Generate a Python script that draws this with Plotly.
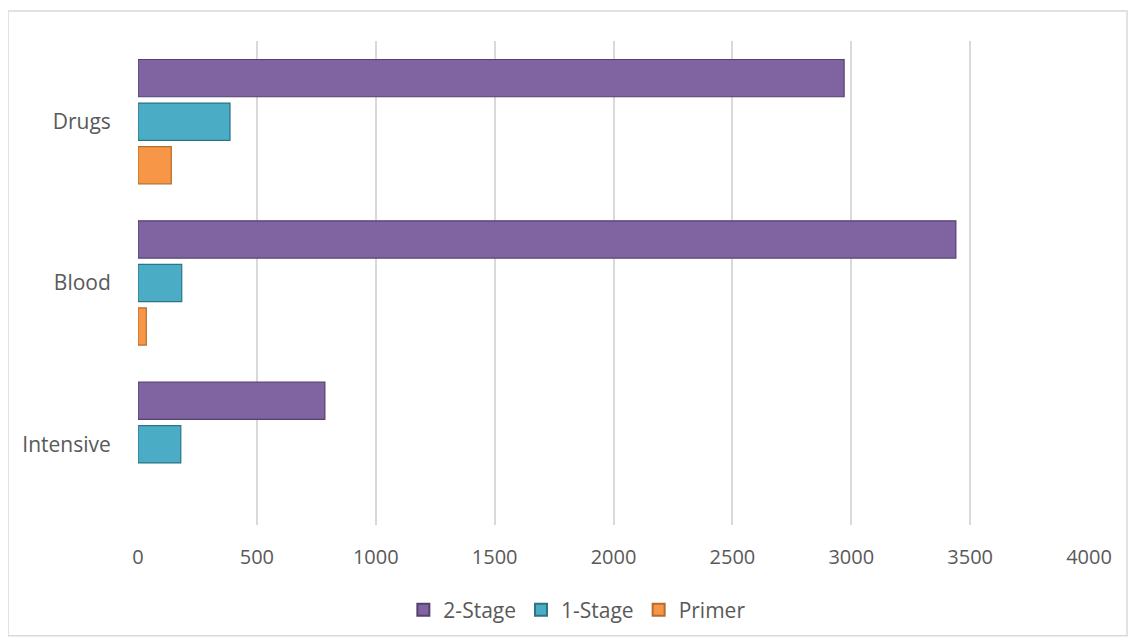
import plotly.graph_objects as go

categories = ["Intensive", "Blood", "Drugs"]
two_stage = [786, 3440, 2970]
one_stage = [180, 184, 387]
primer = [None, 35, 140]

series = [
    ("Primer", primer, "#F79646", "#B66D2C"),
    ("1-Stage", one_stage, "#4BACC6", "#2E7387"),
    ("2-Stage", two_stage, "#8064A2", "#56406F"),
]

FONT = "Open Sans"
GREY = "#595959"

fig = go.Figure()
for name, vals, col, edge in series:
    fig.add_trace(go.Bar(
        y=categories, x=vals, name=name, orientation="h",
        marker=dict(color=col, line=dict(color=edge, width=1.2)),
    ))

# page body has an 8px margin, so the figure is 8px smaller and offset
fig.update_layout(
    width=1128, height=636,
    margin=dict(l=130, r=47, t=33, b=119),
    paper_bgcolor="white", plot_bgcolor="white",
    barmode="group", bargap=0.19, bargroupgap=0.145,
    font=dict(family=FONT, size=21, color=GREY),
    showlegend=True,
    legend=dict(orientation="h", traceorder="reversed",
                x=0.462, xanchor="center", y=-0.176, yanchor="middle",
                font=dict(family=FONT, size=21, color=GREY),
                itemwidth=30, itemsizing="constant"),
    shapes=[dict(type="rect", xref="paper", yref="paper",
                 x0=-0.1367, x1=1.04, y0=-0.229, y1=1.062,
                 line=dict(color="#D9D9D9", width=1.5), layer="below")],
)
fig.update_xaxes(range=[0, 4000], dtick=500, showgrid=True,
                 gridcolor="#D9D9D9", gridwidth=1.5, zeroline=False,
                 showline=False, ticks="outside", ticklen=14,
                 tickcolor="rgba(0,0,0,0)",
                 tickfont=dict(family=FONT, size=20, color=GREY))
fig.update_yaxes(categoryorder="array", categoryarray=categories,
                 showgrid=False, zeroline=False, showline=False,
                 ticks="outside", ticklen=22, tickcolor="rgba(0,0,0,0)",
                 tickfont=dict(family=FONT, size=21, color=GREY))

fig.write_html("out.html")
